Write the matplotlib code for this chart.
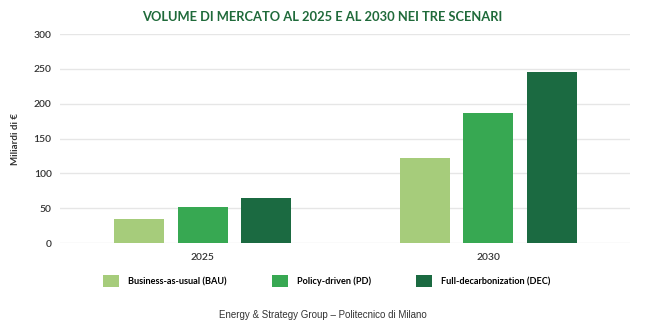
import numpy as np
import matplotlib
matplotlib.use("Agg")
import matplotlib.pyplot as plt
from matplotlib.patches import Patch

YEARS     = ["2025", "2030"]
SCENARIOS = ["Business-as-usual (BAU)", "Policy-driven (PD)", "Full-decarbonization (DEC)"]
BAU = [35, 122]
PD  = [52, 187]
DEC = [64, 245]
Y_TICKS = [0, 50, 100, 150, 200, 250, 300]

COLORS = ["#a6cc7b", "#37a852", "#1b6a41"]
TITLE_COLOR = "#1f6a3a"

plt.rcParams["font.family"] = ["Lato", "DejaVu Sans"]

fig = plt.figure(figsize=(6.45, 3.28), dpi=100)
ax = fig.add_axes([0.093, 0.259, 0.884, 0.637])

x = np.arange(len(YEARS))
width = 0.175
step = 0.223
for i, (vals, col) in enumerate(zip([BAU, PD, DEC], COLORS)):
    ax.bar(x + (i - 1) * step, vals, width, color=col, zorder=3)

ax.set_xlim(-0.5, 1.497)
ax.set_ylim(0, 300)
ax.set_yticks(Y_TICKS)
ax.set_xticks(x)
ax.set_xticklabels(YEARS)
ax.grid(axis="y", color="#e6e6e6", linewidth=1, zorder=0)
for s in ax.spines.values():
    s.set_visible(False)
ax.tick_params(axis="both", length=0, labelsize=7.5, colors="#333333")
ax.tick_params(axis="x", pad=7)
ax.tick_params(axis="y", pad=6)
for lbl in ax.get_xticklabels() + ax.get_yticklabels():
    lbl.set_fontweight("semibold")
ax.set_ylabel("Miliardi di €", fontsize=7, fontweight="bold", color="#333333", labelpad=10)

fig.text(0.5, 0.948, "VOLUME DI MERCATO AL 2025 E AL 2030 NEI TRE SCENARI",
         ha="center", va="center", fontsize=9.3, fontweight="bold", color=TITLE_COLOR)

handles = [Patch(facecolor=c, edgecolor="none") for c in COLORS]
fig.legend(handles, SCENARIOS, loc="center", bbox_to_anchor=(0.507, 0.143), ncol=3,
           frameon=False, handlelength=1.75, handleheight=1.75,
           handletextpad=1.0, columnspacing=4.9,
           prop={"weight": "bold", "size": 6.6})

fig.text(0.5, 0.04, "Energy & Strategy Group \u2013 Politecnico di Milano",
         ha="center", va="center", fontsize=7, color="#333333", family="Liberation Sans")

fig.savefig("out.png", dpi=100)
